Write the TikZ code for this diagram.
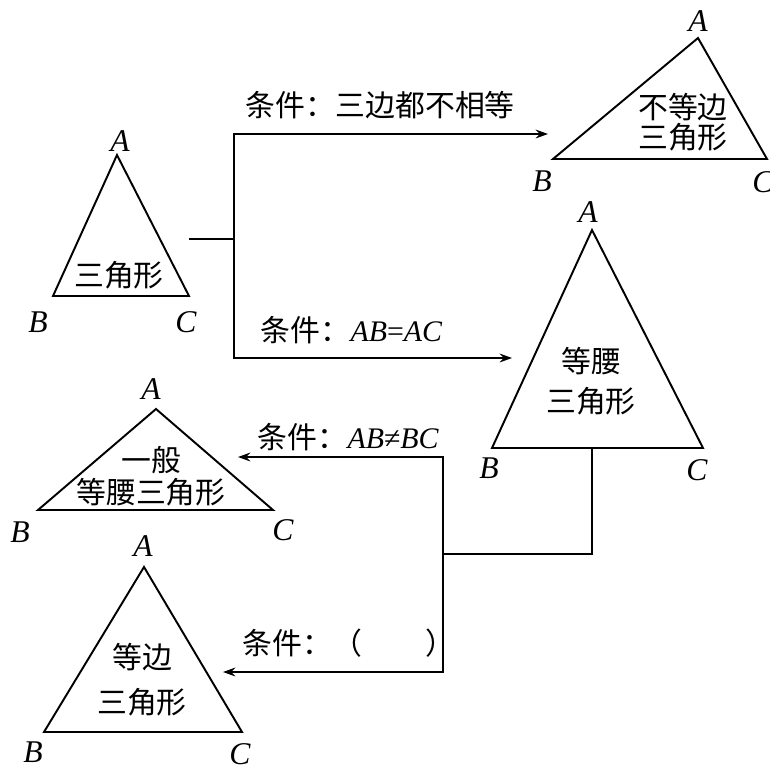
\documentclass[tikz,border=0pt]{standalone}
\usepackage{fontspec}
\setmainfont{Liberation Serif}
\newfontfamily\cjk{Noto Sans CJK SC}
\usetikzlibrary{arrows.meta}

\begin{document}
\begin{tikzpicture}[x=.02cm,y=-.02cm,line width=1.1pt,
  vx/.style={font=\fontsize{18}{20}\selectfont\itshape,inner sep=1pt},
  zh/.style={font=\cjk\fontsize{17}{17}\selectfont,align=center,inner sep=0pt},
  cond/.style={zh,anchor=west},
  arr/.style={-{Stealth[length=7pt,width=5pt]}}]
\useasboundingbox (0,0) rectangle (769,771);
% triangles
\draw (117,155) coordinate (A1) -- (53,296) coordinate (B1) -- (189,296) coordinate (C1) -- cycle;
\draw (698,38) coordinate (A2) -- (553,159) coordinate (B2) -- (767,159) coordinate (C2) -- cycle;
\draw (592,230) coordinate (A3) -- (492,448) coordinate (B3) -- (703,448) coordinate (C3) -- cycle;
\draw (156,409) coordinate (A4) -- (38,510) coordinate (B4) -- (273,510) coordinate (C4) -- cycle;
\draw (144,567) coordinate (A5) -- (44,732) coordinate (B5) -- (242,732) coordinate (C5) -- cycle;
% vertex letters
\node[vx] (a1) at (120,141) {A};
\node[vx] (b1) at (38,322) {B};
\node[vx] (c1) at (186,322) {C};
\node[vx] (a2) at (698,21) {A};
\node[vx] (b2) at (542,181) {B};
\node[vx] (c2) at (763,182) {C};
\node[vx] (a3) at (588,212) {A};
\node[vx] (b3) at (489,468) {B};
\node[vx] (c3) at (697,470) {C};
\node[vx] (a4) at (151,389) {A};
\node[vx] (b4) at (20,532) {B};
\node[vx] (c4) at (283,530) {C};
\node[vx] (a5) at (143,546) {A};
\node[vx] (b5) at (33,752) {B};
\node[vx] (c5) at (240,754) {C};
% names inside
\node[zh] (t1) at (119,275) {三角形};
\node[zh] (t2) at (683,122) {不等边\\三角形};
\node[zh] (t3) at (591,381) {等腰\\[5.8pt]三角形};
\node[zh] (t4) at (151,476) {一般\\[1.2pt]等腰三角形};
\node[zh] (t5) at (142,680) {等边\\[8.6pt]三角形};
% conditions
\node[cond] (k1) at (245,105) {条件：三边都不相等};
\node[cond] (k2) at (260,330) {条件：\rmfamily\fontsize{17}{19}\selectfont\textit{AB}=\textit{AC}};
\node[cond] (k3) at (257,437) {条件：\rmfamily\fontsize{17}{19}\selectfont\textit{AB}≠\textit{BC}};
\node[cond] (k4) at (242,643) {条件：（\hspace{2.1em}）};
% connectors
\coordinate (s1) at (189,239);
\coordinate (j1) at (234,239);
\coordinate (e1) at (548,134);
\coordinate (e2) at (512,358);
\draw (s1) -- (j1);
\draw[arr] (j1) |- (e1);
\draw[arr] (j1) |- (e2);
\coordinate (s2) at (592,448);
\coordinate (j2) at (443,554);
\coordinate (e3) at (238,457);
\coordinate (e4) at (223,672);
\draw (s2) |- (j2);
\draw[arr] (j2) |- (e3);
\draw[arr] (j2) |- (e4);
\end{tikzpicture}
\end{document}
